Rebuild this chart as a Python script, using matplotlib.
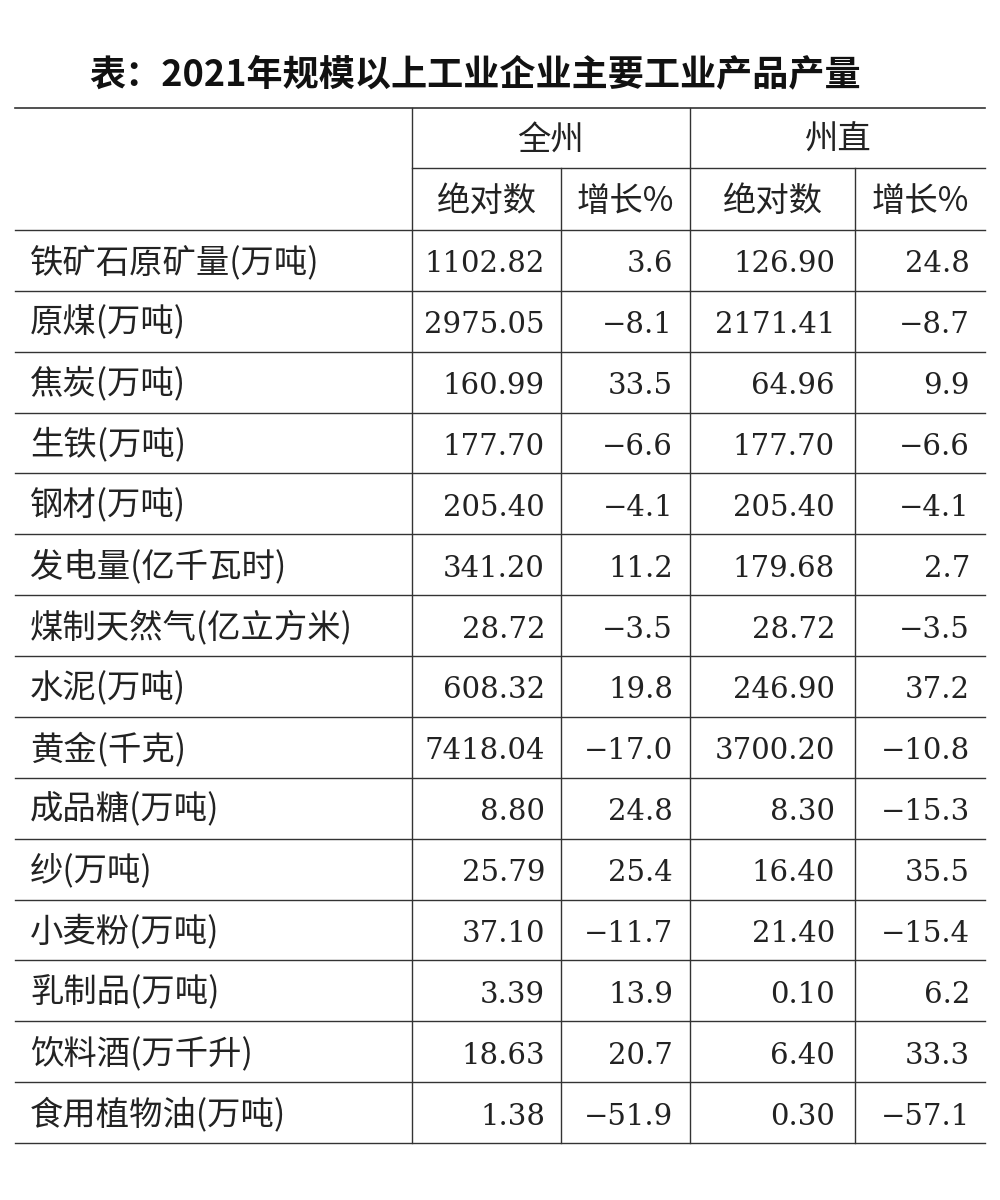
import matplotlib
matplotlib.use("Agg")
import matplotlib.pyplot as plt

plt.rcParams['font.family'] = ['Noto Sans CJK SC', 'DejaVu Sans']

title = "表：2021年规模以上工业企业主要工业产品产量"
groups = ["全州", "州直"]
subheads = ["绝对数", "增长%", "绝对数", "增长%"]
products = ["铁矿石原矿量(万吨)", "原煤(万吨)", "焦炭(万吨)", "生铁(万吨)", "钢材(万吨)",
            "发电量(亿千瓦时)", "煤制天然气(亿立方米)", "水泥(万吨)", "黄金(千克)",
            "成品糖(万吨)", "纱(万吨)", "小麦粉(万吨)", "乳制品(万吨)", "饮料酒(万千升)",
            "食用植物油(万吨)"]
all_abs = ["1102.82", "2975.05", "160.99", "177.70", "205.40", "341.20", "28.72", "608.32",
           "7418.04", "8.80", "25.79", "37.10", "3.39", "18.63", "1.38"]
all_gr = ["3.6", "−8.1", "33.5", "−6.6", "−4.1", "11.2", "−3.5", "19.8", "−17.0", "24.8",
          "25.4", "−11.7", "13.9", "20.7", "−51.9"]
zz_abs = ["126.90", "2171.41", "64.96", "177.70", "205.40", "179.68", "28.72", "246.90",
          "3700.20", "8.30", "16.40", "21.40", "0.10", "6.40", "0.30"]
zz_gr = ["24.8", "−8.7", "9.9", "−6.6", "−4.1", "2.7", "−3.5", "37.2", "−10.8", "−15.3",
         "35.5", "−15.4", "6.2", "33.3", "−57.1"]

fig = plt.figure(figsize=(10, 12), dpi=100)
ax = fig.add_axes([0, 0, 1, 1])
ax.set_xlim(0, 1000); ax.set_ylim(1200, 0); ax.axis('off')

L, R = 15, 985
top, mid, hb = 108, 168, 230
n = len(products)
rh = (1143 - hb) / n
lc = "#333333"; tc = "#222222"; fs = 24

ax.text(475, 75, title, ha='center', va='center', fontsize=26, fontweight='bold', color='#111111')
ax.plot([L, R], [top, top], color=lc, lw=1.2)
ax.plot([412, R], [mid, mid], color=lc, lw=1)
ax.plot([L, R], [hb, hb], color=lc, lw=1)
for c in [412, 690]:
    ax.plot([c, c], [top, 1143], color=lc, lw=1)
for c in [561, 855]:
    ax.plot([c, c], [mid, 1143], color=lc, lw=1)
ax.text(551, 140, groups[0], ha='center', va='center', fontsize=fs, color=tc)
ax.text(837, 140, groups[1], ha='center', va='center', fontsize=fs, color=tc)
edges = [412, 561, 690, 855, 985]
for i, s in enumerate(subheads):
    ax.text((edges[i] + edges[i+1]) / 2, 201, s, ha='center', va='center', fontsize=fs, color=tc)

rights = [545, 673, 835, 970]
for r in range(n):
    yc = hb + rh * (r + 0.5) + 2
    ax.plot([L, R], [hb + rh * (r + 1)] * 2, color=lc, lw=1)
    ax.text(30, yc, products[r], ha='left', va='center', fontsize=fs, color=tc)
    for j, arr in enumerate([all_abs, all_gr, zz_abs, zz_gr]):
        ax.text(rights[j], yc + 2, arr[r], ha='right', va='center', fontsize=21, color=tc,
                family='DejaVu Serif')

fig.savefig("out.png", dpi=100, facecolor='white')
